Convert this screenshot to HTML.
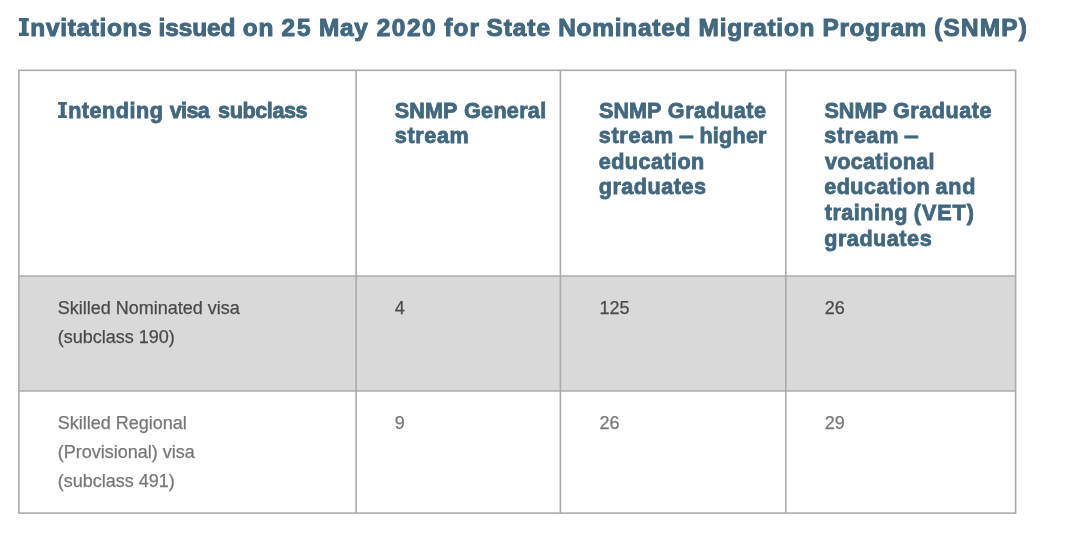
<!DOCTYPE html>
<html>
<head>
<meta charset="utf-8">
<title>Invitations issued on 25 May 2020 for State Nominated Migration Program (SNMP)</title>
<style>
html,body{margin:0;padding:0;background:#fff;}
body{width:1080px;height:558px;position:relative;overflow:hidden;font-family:"Liberation Sans",sans-serif;}
svg.grid{position:absolute;left:0;top:0;width:1080px;height:558px;}
.w{position:absolute;white-space:nowrap;margin:0;font-weight:bold;color:#42687f;-webkit-text-stroke-color:#42687f;}
.h{font-size:24.4px;line-height:29px;-webkit-text-stroke-width:1.0px;}
.th{font-size:21.6px;line-height:25px;-webkit-text-stroke-width:0.8px;}
#page{position:absolute;left:0;top:0;width:1080px;height:558px;will-change:transform;}
.hid{position:absolute;right:100%;top:0;font-style:normal;color:transparent;-webkit-text-stroke-color:transparent;}
h2{margin:0;padding:0;height:0;font-size:inherit;font-weight:inherit;}
.td{position:absolute;white-space:nowrap;font-size:18px;line-height:28px;-webkit-text-stroke-width:0.25px;}
.r1{color:#4a4a4a;-webkit-text-stroke-color:#4a4a4a;}
.r2{color:#777;-webkit-text-stroke-color:#777;}
</style>
</head>
<body>
<div id="page">
<svg class="grid" viewBox="0 0 1080 558">
  <rect x="18.9" y="276" width="996.7" height="115" fill="#d9d9d9"/>
  <g stroke="#ababab" stroke-width="1.6" fill="none">
    <rect x="18.9" y="70.3" width="996.7" height="442.8"/>
    <line x1="356.1" y1="70.3" x2="356.1" y2="513.1"/>
    <line x1="560.4" y1="70.3" x2="560.4" y2="513.1"/>
    <line x1="785.8" y1="70.3" x2="785.8" y2="513.1"/>
    <line x1="18.9" y1="276" x2="1015.6" y2="276"/>
    <line x1="18.9" y1="391" x2="1015.6" y2="391"/>
  </g>
  <path fill="#42687f" d="M18.9 18.0H28.75V21.2H26.575V32.75H28.75V35.95H18.9V32.75H21.874999999999996V21.2H18.9Z"/>
  <path fill="#42687f" d="M58.1 102.1H66.9V104.8H64.8V115.2H66.9V117.9H58.1V115.2H60.7V104.8H58.1Z"/>
</svg>
<h2>
<span class="w h" style="left:30.35px;top:13.00px;letter-spacing:0.683px"><i class="hid">I</i>nvitations</span>
<span class="w h" style="left:158.60px;top:13.00px;letter-spacing:-0.080px">issued</span>
<span class="w h" style="left:242.85px;top:13.00px;letter-spacing:0.750px">on</span>
<span class="w h" style="left:281.55px;top:13.00px;letter-spacing:1.800px">25</span>
<span class="w h" style="left:319.00px;top:13.00px;letter-spacing:0.650px">May</span>
<span class="w h" style="left:376.75px;top:13.00px;letter-spacing:1.500px">2020</span>
<span class="w h" style="left:444.35px;top:13.00px;letter-spacing:1.075px">for</span>
<span class="w h" style="left:486.50px;top:13.00px;letter-spacing:0.963px">State</span>
<span class="w h" style="left:558.15px;top:13.00px;letter-spacing:0.775px">Nominated</span>
<span class="w h" style="left:698.60px;top:13.00px;letter-spacing:0.763px">Migration</span>
<span class="w h" style="left:822.60px;top:13.00px;letter-spacing:0.558px">Program</span>
<span class="w h" style="left:934.25px;top:13.00px;letter-spacing:1.170px">(SNMP)</span>
</h2>
<span class="w th" style="left:68.15px;top:98.00px;letter-spacing:0.514px"><i class="hid">I</i>ntending</span>
<span class="w th" style="left:169.65px;top:98.00px;letter-spacing:-0.600px">visa</span>
<span class="w th" style="left:218.10px;top:98.00px;letter-spacing:-0.421px">subclass</span>
<span class="w th" style="left:394.75px;top:98.00px;letter-spacing:0.083px">SNMP</span>
<span class="w th" style="left:464.00px;top:98.00px;letter-spacing:0.292px">General</span>
<span class="w th" style="left:394.75px;top:123.00px;letter-spacing:0.650px">stream</span>
<span class="w th" style="left:598.95px;top:98.00px;letter-spacing:0.067px">SNMP</span>
<span class="w th" style="left:667.85px;top:98.00px;letter-spacing:0.486px">Graduate</span>
<span class="w th" style="left:598.70px;top:123.00px;letter-spacing:0.740px">stream</span>
<span class="w th" style="left:678.65px;top:123.00px;letter-spacing:0.000px;transform-origin:0 50%;transform:scaleX(1.226)">–</span>
<span class="w th" style="left:699.45px;top:123.00px;letter-spacing:0.220px">higher</span>
<span class="w th" style="left:598.70px;top:149.00px;letter-spacing:0.456px">education</span>
<span class="w th" style="left:598.70px;top:174.00px;letter-spacing:0.519px">graduates</span>
<span class="w th" style="left:824.45px;top:98.00px;letter-spacing:0.000px">SNMP</span>
<span class="w th" style="left:893.00px;top:98.00px;letter-spacing:0.543px">Graduate</span>
<span class="w th" style="left:824.20px;top:123.00px;letter-spacing:0.700px">stream</span>
<span class="w th" style="left:904.20px;top:123.00px;letter-spacing:0.000px;transform-origin:0 50%;transform:scaleX(1.222)">–</span>
<span class="w th" style="left:824.95px;top:149.00px;letter-spacing:0.300px">vocational</span>
<span class="w th" style="left:824.20px;top:174.00px;letter-spacing:0.456px">education</span>
<span class="w th" style="left:935.40px;top:174.00px;letter-spacing:0.850px">and</span>
<span class="w th" style="left:824.70px;top:200.00px;letter-spacing:0.507px">training</span>
<span class="w th" style="left:913.80px;top:200.00px;letter-spacing:0.925px">(VET)</span>
<span class="w th" style="left:824.20px;top:226.00px;letter-spacing:0.531px">graduates</span>
<div class="td r1" style="left:57.8px;top:294px;">Skilled Nominated visa</div>
<div class="td r1" style="left:57.8px;top:323px;">(subclass 190)</div>
<div class="td r1" style="left:394.8px;top:294px;">4</div>
<div class="td r1" style="left:599.4px;top:294px;">125</div>
<div class="td r1" style="left:824.8px;top:294px;">26</div>
<div class="td r2" style="left:57.8px;top:409px;">Skilled Regional</div>
<div class="td r2" style="left:57.8px;top:438px;">(Provisional) visa</div>
<div class="td r2" style="left:57.8px;top:467px;">(subclass 491)</div>
<div class="td r2" style="left:394.8px;top:409px;">9</div>
<div class="td r2" style="left:599.4px;top:409px;">26</div>
<div class="td r2" style="left:824.8px;top:409px;">29</div>
</div>
</body>
</html>
